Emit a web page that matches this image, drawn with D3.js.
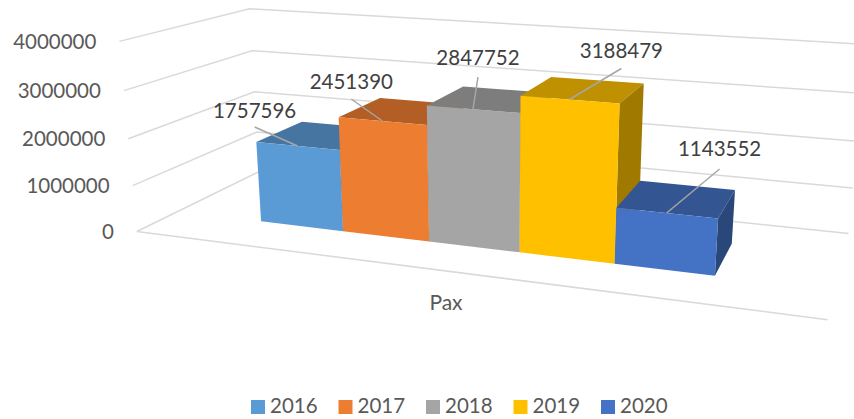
<!DOCTYPE html>
<html>
<head>
<meta charset="utf-8">
<script src="https://cdn.jsdelivr.net/npm/d3@7"></script>
<style>
    html, body { margin: 0; padding: 0; background: #fff; }
    text { font-family: Lato, "Open Sans", sans-serif; }
</style>
</head>
<body>
<div id="chart"></div>
<script>
// Chart data
const years = ['2016', '2017', '2018', '2019', '2020'];
const pax = [1757596, 2451390, 2847752, 3188479, 1143552];
const valueTicks = [0, 1000000, 2000000, 3000000, 4000000];
const categoryLabel = 'Pax';

const faceColors = ['#5b9bd5', '#ed7d31', '#a5a5a5', '#ffc000', '#4472c4'];
const topColors = ['#4675a1', '#b35e25', '#7d7d7d', '#bf9000', '#335693'];
const sideColors = ['#3c6690', '#9c5120', '#6d6d6d', '#a07a00', '#2a4779'];

// Where each data label sits relative to the top of its bar: leader dx, leader dy, text gap
const leaderOffsets = [[-43, -19, 9], [-31, -22, 10], [5, -32, 12], [52, -31, 11], [53, -44, 13]];

//////////////////////////////////////////////////////////////////////
// Camera: fit a projective matrix to the corners of the chart box
//////////////////////////////////////////////////////////////////////
const boxCorners = [
    [0, 0, 0, 136, 231], [0, 1, 0, 120, 41],
    [0, 0, 1, 260, 172], [0, 1, 1, 249, 9],
    [1, 0, 1, 849, 234], [1, 1, 1, 865, 43],
    [1, 0, 0, 827, 319], [1, 1, 0, 848, 94]
];

function _solve(A, b) {
    const n = b.length;
    const m = A.map((row, i) => [...row, b[i]]);
    for (let c = 0; c < n; c++) {
        let pivot = c;
        for (let r = c + 1; r < n; r++) {
            if (Math.abs(m[r][c]) > Math.abs(m[pivot][c])) pivot = r;
        }
        [m[c], m[pivot]] = [m[pivot], m[c]];
        for (let r = 0; r < n; r++) {
            if (r === c) continue;
            const f = m[r][c] / m[c][c];
            for (let k = c; k <= n; k++) m[r][k] -= f * m[c][k];
        }
    }
    return m.map((row, i) => row[n] / row[i]);
}

function _fitCamera(corners) {
    const rows = [];
    const rhs = [];
    corners.forEach(([X, Y, Z, u, v]) => {
        rows.push([X, Y, Z, 1, 0, 0, 0, 0, -u * X, -u * Y, -u * Z]);
        rhs.push(u);
        rows.push([0, 0, 0, 0, X, Y, Z, 1, -v * X, -v * Y, -v * Z]);
        rhs.push(v);
    });
    // Normal equations, there are more corners than unknowns
    const AtA = d3.range(11).map(i => d3.range(11).map(j => d3.sum(rows, r => r[i] * r[j])));
    const Atb = d3.range(11).map(i => d3.sum(rows, (r, k) => r[i] * rhs[k]));
    return _solve(AtA, Atb);
}

const cam = _fitCamera(boxCorners);

function project(x, y, z) {
    const w = cam[8] * x + cam[9] * y + cam[10] * z + 1;
    return [
        (cam[0] * x + cam[1] * y + cam[2] * z + cam[3]) / w,
        (cam[4] * x + cam[5] * y + cam[6] * z + cam[7]) / w
    ];
}

//////////////////////////////////////////////////////////////////////
// Draw the chart
//////////////////////////////////////////////////////////////////////
function initChart() {
    const svg = d3.select('#chart')
        .append('svg')
        .attr('width', 854)
        .attr('height', 419)
        .style('display', 'block');

    const y = d3.scaleLinear().domain([0, 4000000]).range([0, 1]);
    const x = d3.scaleBand().domain(years).range([0.148, 0.843]);
    const barFront = 0.30;
    const barBack = 0.70;

    const line = d3.line();
    const quad = pts => line(pts) + 'Z';

    // Gridlines on the left and back walls
    svg.append('g')
        .selectAll('path')
        .data(valueTicks)
        .join('path')
        .attr('d', d => line([project(0, y(d), 0), project(0, y(d), 1), project(1, y(d), 1)]))
        .attr('fill', 'none')
        .attr('stroke', '#d9d9d9')
        .attr('stroke-width', 1.5);

    // Front edge of the floor
    svg.append('path')
        .attr('d', line([project(0, 0, 0), project(1, 0, 0)]))
        .attr('fill', 'none')
        .attr('stroke', '#d9d9d9')
        .attr('stroke-width', 1.5);

    // Value labels
    svg.append('g')
        .selectAll('text')
        .data(valueTicks)
        .join('text')
        .attr('x', d => project(0, y(d), 0)[0] - 23)
        .attr('y', d => project(0, y(d), 0)[1])
        .attr('dy', '0.35em')
        .attr('text-anchor', 'end')
        .attr('font-size', 20.5)
        .attr('fill', '#595959')
        .text(d3.format('d'));

    // Bars, left to right so the next bar covers the previous one
    const bars = svg.append('g')
        .selectAll('g')
        .data(years)
        .join('g');

    const idx = d => years.indexOf(d);
    const x0 = d => x(d);
    const x1 = d => x(d) + x.bandwidth();
    const h = d => y(pax[idx(d)]);

    bars.append('path')
        .attr('d', d => quad([project(x0(d), h(d), barFront), project(x1(d), h(d), barFront),
            project(x1(d), h(d), barBack), project(x0(d), h(d), barBack)]))
        .attr('fill', d => topColors[idx(d)]);

    bars.append('path')
        .attr('d', d => quad([project(x1(d), 0, barFront), project(x1(d), h(d), barFront),
            project(x1(d), h(d), barBack), project(x1(d), 0, barBack)]))
        .attr('fill', d => sideColors[idx(d)]);

    bars.append('path')
        .attr('d', d => quad([project(x0(d), 0, barFront), project(x1(d), 0, barFront),
            project(x1(d), h(d), barFront), project(x0(d), h(d), barFront)]))
        .attr('fill', d => faceColors[idx(d)]);

    // Data labels with leader lines
    const anchor = d => project(x0(d) + x.bandwidth() / 2, h(d), barFront);
    const labels = svg.append('g')
        .selectAll('g')
        .data(years)
        .join('g');

    labels.append('line')
        .attr('x1', d => anchor(d)[0])
        .attr('y1', d => anchor(d)[1])
        .attr('x2', d => anchor(d)[0] + leaderOffsets[idx(d)][0])
        .attr('y2', d => anchor(d)[1] + leaderOffsets[idx(d)][1])
        .attr('stroke', '#a6a6a6')
        .attr('stroke-width', 1.5);

    labels.append('text')
        .attr('x', d => anchor(d)[0] + leaderOffsets[idx(d)][0])
        .attr('y', d => anchor(d)[1] + leaderOffsets[idx(d)][1] - leaderOffsets[idx(d)][2])
        .attr('text-anchor', 'middle')
        .attr('font-size', 20.5)
        .attr('fill', '#404040')
        .text(d => pax[idx(d)]);

    // Category label
    svg.append('text')
        .attr('x', 446)
        .attr('y', 310)
        .attr('text-anchor', 'middle')
        .attr('font-size', 21)
        .attr('fill', '#595959')
        .text(categoryLabel);

    // Legend
    const legendX = d3.scalePoint().domain(years).range([251, 601]);
    const legend = svg.append('g')
        .selectAll('g')
        .data(years)
        .join('g')
        .attr('transform', d => `translate(${legendX(d)},400)`);

    legend.append('rect')
        .attr('width', 14)
        .attr('height', 14)
        .attr('fill', d => faceColors[idx(d)]);

    legend.append('text')
        .attr('x', 19)
        .attr('y', 13)
        .attr('font-size', 20.5)
        .attr('fill', '#595959')
        .text(d => d);
}

document.addEventListener('DOMContentLoaded', initChart);
</script>
</body>
</html>
